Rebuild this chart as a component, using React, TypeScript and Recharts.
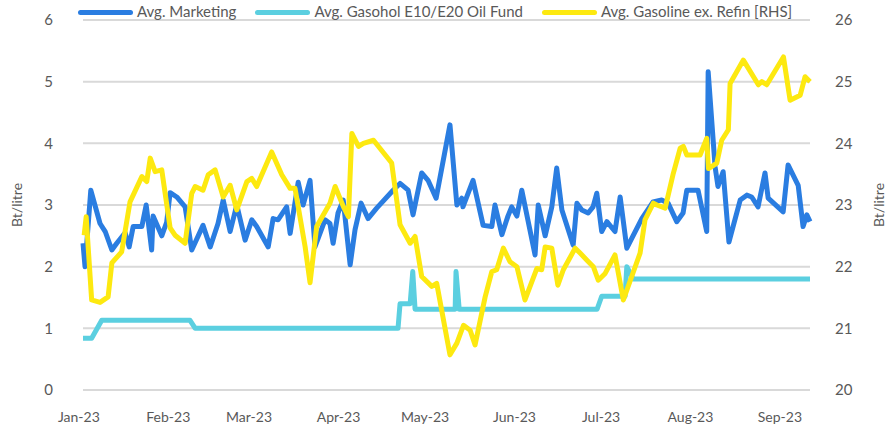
import { LineChart, Line, XAxis, YAxis, CartesianGrid, Legend } from 'recharts';

// day = days since 1 Jan 2023 (approx)
const monthTicks = [2, 33, 61, 92, 122, 153, 183, 214, 245];
const monthLabels = ['Jan-23', 'Feb-23', 'Mar-23', 'Apr-23', 'May-23', 'Jun-23', 'Jul-23', 'Aug-23', 'Sep-23'];

const marketingDays = [
  1.7, 2.4, 4.4, 7.6, 9.4, 11.7, 13.4, 16.3, 17.7, 19.1, 22.1, 23.6, 25.5, 26.0, 29.0, 30.7, 31.9, 34.2, 37.1, 39.4,
  43.3, 45.8, 48.5, 50.3, 52.7, 55.0, 57.9, 60.2, 61.9, 65.9, 67.6, 69.3, 72.3, 73.5, 76.3, 78.0, 80.4, 82.1, 85.6,
  87.3, 88.4, 90.1, 91.9, 94.3, 96.0, 98.1, 100.5, 103.5, 109.2, 111.6, 114.4, 116.1, 119.1, 121.3, 124.1, 128.9,
  131.3, 133.0, 133.4, 136.9, 140.4, 143.4, 144.5, 146.9, 149.0, 150.3, 152.1, 153.8, 158.4, 159.5, 161.9, 164.2,
  165.9, 167.7, 171.6, 172.9, 174.6, 176.8, 178.5, 179.8, 181.5, 183.3, 186.1, 187.9, 190.2, 195.4, 199.3, 202.3,
  204.5, 207.5, 209.7, 211.0, 214.9, 217.9, 218.4, 220.8, 221.8, 223.6, 225.6, 229.5, 231.8, 233.5, 235.7, 238.1,
  239.2, 244.4, 246.1, 249.6, 251.3, 252.6, 253.7,
];
const marketingValues = [
  2.38, 2.0, 3.24, 2.7, 2.57, 2.27, 2.38, 2.55, 2.32, 2.65, 2.65, 3.0, 2.27, 2.82, 2.5, 2.72, 3.2, 3.13, 2.97, 2.27,
  2.67, 2.32, 2.7, 3.08, 2.57, 3.0, 2.43, 2.76, 2.65, 2.32, 2.78, 2.76, 2.97, 2.54, 3.37, 3.0, 3.4, 2.32, 2.76,
  2.7, 2.38, 2.87, 3.08, 2.03, 2.6, 3.03, 2.78, 2.95, 3.24, 3.35, 3.24, 2.84, 3.52, 3.4, 3.11, 4.3,
  3.0, 3.11, 2.97, 3.4, 2.67, 2.65, 3.0, 2.52, 2.82, 2.97, 2.82, 3.24, 2.19, 3.0, 2.5, 2.97,
  3.6, 2.92, 2.35, 3.03, 2.92, 2.87, 2.97, 3.19, 2.57, 2.73, 2.57, 3.13, 2.3, 2.78, 3.05, 3.08,
  3.03, 2.73, 2.87, 3.24, 3.24, 2.57, 5.16, 3.62, 3.3, 3.54, 2.4, 3.08, 3.16, 3.13, 2.97, 3.52,
  3.11, 2.89, 3.65, 3.32, 2.65, 2.84, 2.73,
];

const oilFundDays = [1.7, 4.7, 8.2, 38.8, 40.6, 110.9, 111.6, 115.1, 116.0, 116.8, 130.7, 131.0, 132.1, 179.9, 181.5, 189.6, 190.2, 192.4, 253.7];
const oilFundValues = [0.84, 0.84, 1.13, 1.13, 1.0, 1.0, 1.4, 1.4, 1.92, 1.31, 1.31, 1.92, 1.31, 1.31, 1.52, 1.52, 2.0, 1.8, 1.8];

const gasolineDays = [
  2.1, 2.8, 4.7, 7.6, 10.4, 11.7, 15.1, 18.0, 22.1, 23.8, 25.0, 26.7, 29.0, 31.9, 33.6, 37.1, 39.4, 40.6, 43.3, 45.1,
  47.5, 50.3, 52.7, 55.0, 58.5, 60.2, 61.9, 67.1, 70.6, 73.5, 75.2, 78.7, 80.4, 82.7, 87.3, 89.1, 92.0, 93.7, 94.9,
  97.2, 98.9, 102.4, 108.7, 111.6, 115.1, 116.8, 119.1, 122.6, 124.3, 128.9, 131.3, 133.6, 135.9, 137.6, 141.1,
  143.4, 145.1, 147.4, 149.7, 152.1, 154.9, 159.0, 160.7, 161.9, 164.2, 166.3, 168.2, 172.3, 174.0, 176.3, 178.6,
  180.3, 182.7, 186.1, 189.0, 191.9, 194.8, 196.5, 199.4, 200.6, 203.5, 206.3, 208.7, 209.8, 211.0, 215.6, 217.9,
  218.5, 221.4, 223.1, 225.4, 226.0, 230.6, 235.8, 237.0, 238.7, 244.5, 246.8, 250.3, 252.0, 253.7,
];
const gasolineValues = [
  22.51, 22.81, 21.46, 21.42, 21.51, 22.06, 22.24, 23.05, 23.46, 23.38, 23.76, 23.54, 23.57, 22.63, 22.51, 22.38, 23.19, 23.3, 23.24, 23.49,
  23.57, 23.13, 23.32, 22.92, 23.38, 23.43, 23.3, 23.86, 23.49, 23.27, 23.27, 22.32, 21.74, 22.65, 23.03, 23.3, 22.97, 22.81, 24.16,
  23.95, 24.0, 24.05, 23.68, 22.68, 22.38, 22.49, 21.84, 21.68, 21.73, 20.57, 20.76, 21.05, 20.97, 20.73, 21.51,
  21.92, 21.95, 22.3, 22.08, 22.0, 21.46, 21.97, 21.95, 22.32, 22.3, 21.7, 21.95, 22.3, 22.22, 22.11, 22.0,
  21.78, 21.89, 22.19, 21.46, 21.84, 22.22, 22.76, 23.03, 23.0, 22.95, 23.51, 23.92, 23.95, 23.81, 23.81, 24.08,
  23.59, 23.68, 24.05, 24.22, 24.97, 25.35, 24.95, 25.0, 24.95, 25.4, 24.7, 24.78, 25.08, 25.0,
];

const leftTicks = [0, 1, 2, 3, 4, 5, 6];
const rightTicks = [20, 21, 22, 23, 24, 25, 26];

const toRows = (days: number[], values: number[]) => days.map((day, i) => ({ day, value: values[i] }));
const marketing = toRows(marketingDays, marketingValues);
const oilFund = toRows(oilFundDays, oilFundValues);
const gasoline = toRows(gasolineDays, gasolineValues);

const FONT = 'Lato, "Open Sans", sans-serif';
const TEXT = '#595959';
const BLUE = '#2a7de1';
const CYAN = '#5bcfe0';
const YELLOW = '#fde910';

const legendItems = [
  { label: 'Avg. Marketing', color: BLUE },
  { label: 'Avg. Gasohol E10/E20 Oil Fund', color: CYAN },
  { label: 'Avg. Gasoline ex. Refin [RHS]', color: YELLOW },
];

function LegendContent() {
  return (
    <div style={{ height: 20, display: 'flex', alignItems: 'center', paddingLeft: 78, paddingTop: 2, boxSizing: 'border-box', fontFamily: FONT, fontSize: 15, color: TEXT }}>
      {legendItems.map((it) => (
        <div key={it.label} style={{ display: 'flex', alignItems: 'center', marginRight: 19 }}>
          <span style={{ display: 'inline-block', width: 55, height: 5, borderRadius: 3, background: it.color, marginRight: 4, marginTop: 3 }} />
          <span>{it.label}</span>
        </div>
      ))}
    </div>
  );
}

const axisTitle = (dx: number) => ({ viewBox }: any) => {
  const x = viewBox.x + dx;
  const y = viewBox.y + viewBox.height / 2;
  return (
    <text x={x} y={y} transform={`rotate(-90 ${x} ${y})`} textAnchor="middle" dominantBaseline="middle"
      fill={TEXT} fontSize={14} fontFamily={FONT}>Bt/litre</text>
  );
};

export default function App() {
  const tick = { fontSize: 15, fill: TEXT, fontFamily: FONT };
  return (
    <div style={{ width: 890, height: 434, background: '#fff' }}>
      <style>{'body{margin:0}'}</style>
      <LineChart width={890} height={434} margin={{ top: 0, right: 20, left: 0, bottom: 0 }}>
        <Legend verticalAlign="top" align="left" wrapperStyle={{ left: 0, width: 890 }} content={<LegendContent />} />
        <CartesianGrid vertical={false} stroke="#d9d9d9" strokeWidth={2} yAxisId="left" />
        <XAxis type="number" dataKey="day" domain={[1.7, 253.7]} ticks={monthTicks}
          tickFormatter={(v: number) => monthLabels[monthTicks.indexOf(v)]} axisLine={false} tickLine={false}
          tickSize={0} tickMargin={22} tick={{ ...tick, fontSize: 14, dx: -5 }} height={44} interval={0} />
        <YAxis yAxisId="left" domain={[0, 6]} ticks={leftTicks} width={83} axisLine={false} tickLine={false}
          tickSize={0} tickMargin={30} tick={tick} label={{ content: axisTitle(18) }} />
        <YAxis yAxisId="right" orientation="right" domain={[20, 26]} ticks={rightTicks} width={60} axisLine={false}
          tickLine={false} tickSize={0} tickMargin={25} tick={tick} label={{ content: axisTitle(70) }} />
        <Line yAxisId="left" data={oilFund} dataKey="value" name="Avg. Gasohol E10/E20 Oil Fund" stroke={CYAN}
          strokeWidth={5} dot={false} isAnimationActive={false} strokeLinejoin="round" />
        <Line yAxisId="left" data={marketing} dataKey="value" name="Avg. Marketing" stroke={BLUE}
          strokeWidth={5} dot={false} isAnimationActive={false} strokeLinejoin="round" />
        <Line yAxisId="right" data={gasoline} dataKey="value" name="Avg. Gasoline ex. Refin [RHS]" stroke={YELLOW}
          strokeWidth={5} dot={false} isAnimationActive={false} strokeLinejoin="round" />
      </LineChart>
    </div>
  );
}
